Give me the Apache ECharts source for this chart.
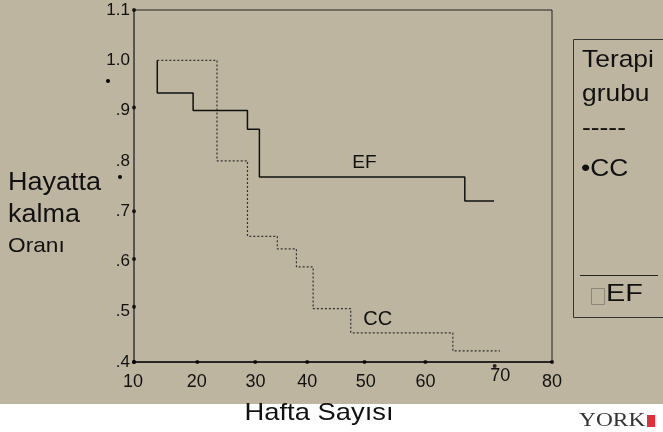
<!DOCTYPE html>
<html>
<head>
<meta charset="utf-8">
<script src="https://cdn.jsdelivr.net/npm/echarts@6/dist/echarts.min.js"></script>
<style>
html,body{margin:0;padding:0;background:#bdb5a0;}
#c{width:663px;height:432px;}
</style>
</head>
<body>
<div id="c"></div>
<script>
// ---- data ----
var xTickLabels = ['10','20','30','40','50','60','70','80'];
var yTickLabels = ['.4','.5','.6','.7','.8','.9','1.0','1.1'];
var efWeeks = [13.9, 13.9, 19.9, 29.0, 31.0, 65.4, 70.3];
var efSurv  = [1.0, 0.935, 0.90, 0.863, 0.768, 0.72, 0.72];
var ccWeeks = [13.9, 23.9, 29.0, 34.0, 37.2, 40.0, 46.3, 63.4, 71.3];
var ccSurv  = [1.0, 0.80, 0.65, 0.625, 0.589, 0.506, 0.458, 0.422, 0.422];
var xDotVals  = [10, 20.6, 30.3, 39.0, 48.6, 58.8, 70.4, 80];
var xDotLevel = [0.4, 0.4, 0.4, 0.4, 0.4, 0.4, 0.392, 0.4];
var yDotVals = [1.1, 0.906, 0.7, 0.605, 0.51, 0.4];

function zip(a, b){ return a.map(function(v,i){ return [v, b[i]]; }); }

// per-label placement tweaks of the hand-placed tick labels (px)
var xLabelShift = [-1, 3, 2, -6, -7, -7, 8, 0];
var xLabelRaise = [0, 0, 0, 0, 0, 0, 6, 0];
var F = 'Liberation Sans, Arial, sans-serif';
var rich = {};
xLabelShift.forEach(function(s, i){
  rich['o'+i] = {fontFamily:F, fontSize:18, color:'#111',
    padding:[7 - xLabelRaise[i], s < 0 ? -2*s : 0, 0, s > 0 ? 2*s : 0]};
});

var chart = echarts.init(document.getElementById('c'), null, {renderer:'canvas'});
var option = {
  backgroundColor: '#bdb5a0',
  animation: false,
  grid: {left:134, top:10, width:418, height:352, show:true, borderColor:'#222', borderWidth:1, backgroundColor:'transparent'},
  xAxis: {
    type:'value', min:10, max:80, interval:10,
    axisLine:{show:true, lineStyle:{color:'#111', width:1.5}},
    axisTick:{show:false}, splitLine:{show:false},
    axisLabel:{fontFamily:F, fontSize:18, color:'#111', margin:4, rich:rich,
      formatter:function(v){ var i=Math.round((v-10)/10); return '{o'+i+'|'+(xTickLabels[i]||'')+'}'; }}
  },
  yAxis: {
    type:'value', min:0.4, max:1.1, interval:0.1,
    axisLine:{show:true, lineStyle:{color:'#555', width:2}},
    axisTick:{show:false}, splitLine:{show:false},
    axisLabel:{fontFamily:F, fontSize:17, color:'#111', margin:4,
      formatter:function(v){ var i=Math.round((v-0.4)*10); return yTickLabels[i]||''; }}
  },
  series: [
    {type:'line', name:'EF', step:'end', data:zip(efWeeks, efSurv), showSymbol:false,
     lineStyle:{color:'#111', width:1.5}, z:3,
     markPoint:{symbol:'circle', symbolSize:0, data:[{coord:[48.6,0.796], label:{show:true, formatter:'EF', fontFamily:F, fontSize:19, color:'#111'}}]}},
    {type:'line', name:'CC', step:'end', data:zip(ccWeeks, ccSurv), showSymbol:false,
     lineStyle:{color:'#333', width:1.2, type:[2,2]}, z:2,
     markPoint:{symbol:'circle', symbolSize:0, data:[{coord:[50.8,0.484], label:{show:true, formatter:'CC', fontFamily:F, fontSize:20, color:'#111'}}]}},
    {type:'scatter', data:zip(xDotVals, xDotLevel), symbolSize:4, itemStyle:{color:'#000'}, clip:false, z:5},
    {type:'scatter', data:yDotVals.map(function(v){return [10, v];}), symbolSize:4, itemStyle:{color:'#000'}, clip:false, z:5}
  ],
  graphic: [
    {type:'rect', shape:{x:0, y:404, width:663, height:28}, style:{fill:'#ffffff'}, z:-1},
    {type:'circle', shape:{cx:108, cy:81, r:2}, style:{fill:'#000'}},
    {type:'circle', shape:{cx:120, cy:177, r:2}, style:{fill:'#000'}},
    {type:'text', x:8, y:183, scaleX:1.08, style:{text:'Hayatta', font:'25px '+F, fill:'#111', verticalAlign:'middle'}},
    {type:'text', x:8, y:215, scaleX:1.08, style:{text:'kalma', font:'25px '+F, fill:'#111', verticalAlign:'middle'}},
    {type:'text', x:8, y:246, scaleX:1.08, style:{text:'Oranı', font:'21px '+F, fill:'#111', verticalAlign:'middle'}},
    {type:'rect', shape:{x:573.5, y:39.5, width:100, height:278}, style:{fill:'none', stroke:'#333', lineWidth:1}},
    {type:'text', x:582, y:60, scaleX:1.1, style:{text:'Terapi', font:'24px '+F, fill:'#111', verticalAlign:'middle'}},
    {type:'text', x:582, y:94, scaleX:1.1, style:{text:'grubu', font:'24px '+F, fill:'#111', verticalAlign:'middle'}},
    {type:'text', x:582, y:128, scaleX:1.1, style:{text:'-----', font:'24px '+F, fill:'#111', verticalAlign:'middle'}},
    {type:'text', x:581, y:169, scaleX:1.1, style:{text:'•CC', font:'24px '+F, fill:'#111', verticalAlign:'middle'}},
    {type:'line', shape:{x1:580, y1:275.5, x2:658, y2:275.5}, style:{stroke:'#222', lineWidth:1}},
    {type:'rect', shape:{x:591.5, y:288.5, width:13, height:16}, style:{fill:'none', stroke:'#8a8576', lineWidth:1}},
    {type:'text', x:606, y:294, scaleX:1.2, style:{text:'EF', font:'24px '+F, fill:'#111', verticalAlign:'middle'}},
    {type:'text', x:319, y:413, scaleX:1.14, style:{text:'Hafta Sayısı', font:'24px '+F, fill:'#111', verticalAlign:'middle', align:'center'}},
    {type:'text', x:579, y:421, scaleX:1.3, style:{text:'YORK', font:'18px Liberation Serif, Times New Roman, serif', fill:'#333', verticalAlign:'middle'}},
    {type:'rect', shape:{x:647, y:415, width:8, height:12}, style:{fill:'#e0303a'}}
  ]
};
chart.setOption(option);
</script>
</body>
</html>
